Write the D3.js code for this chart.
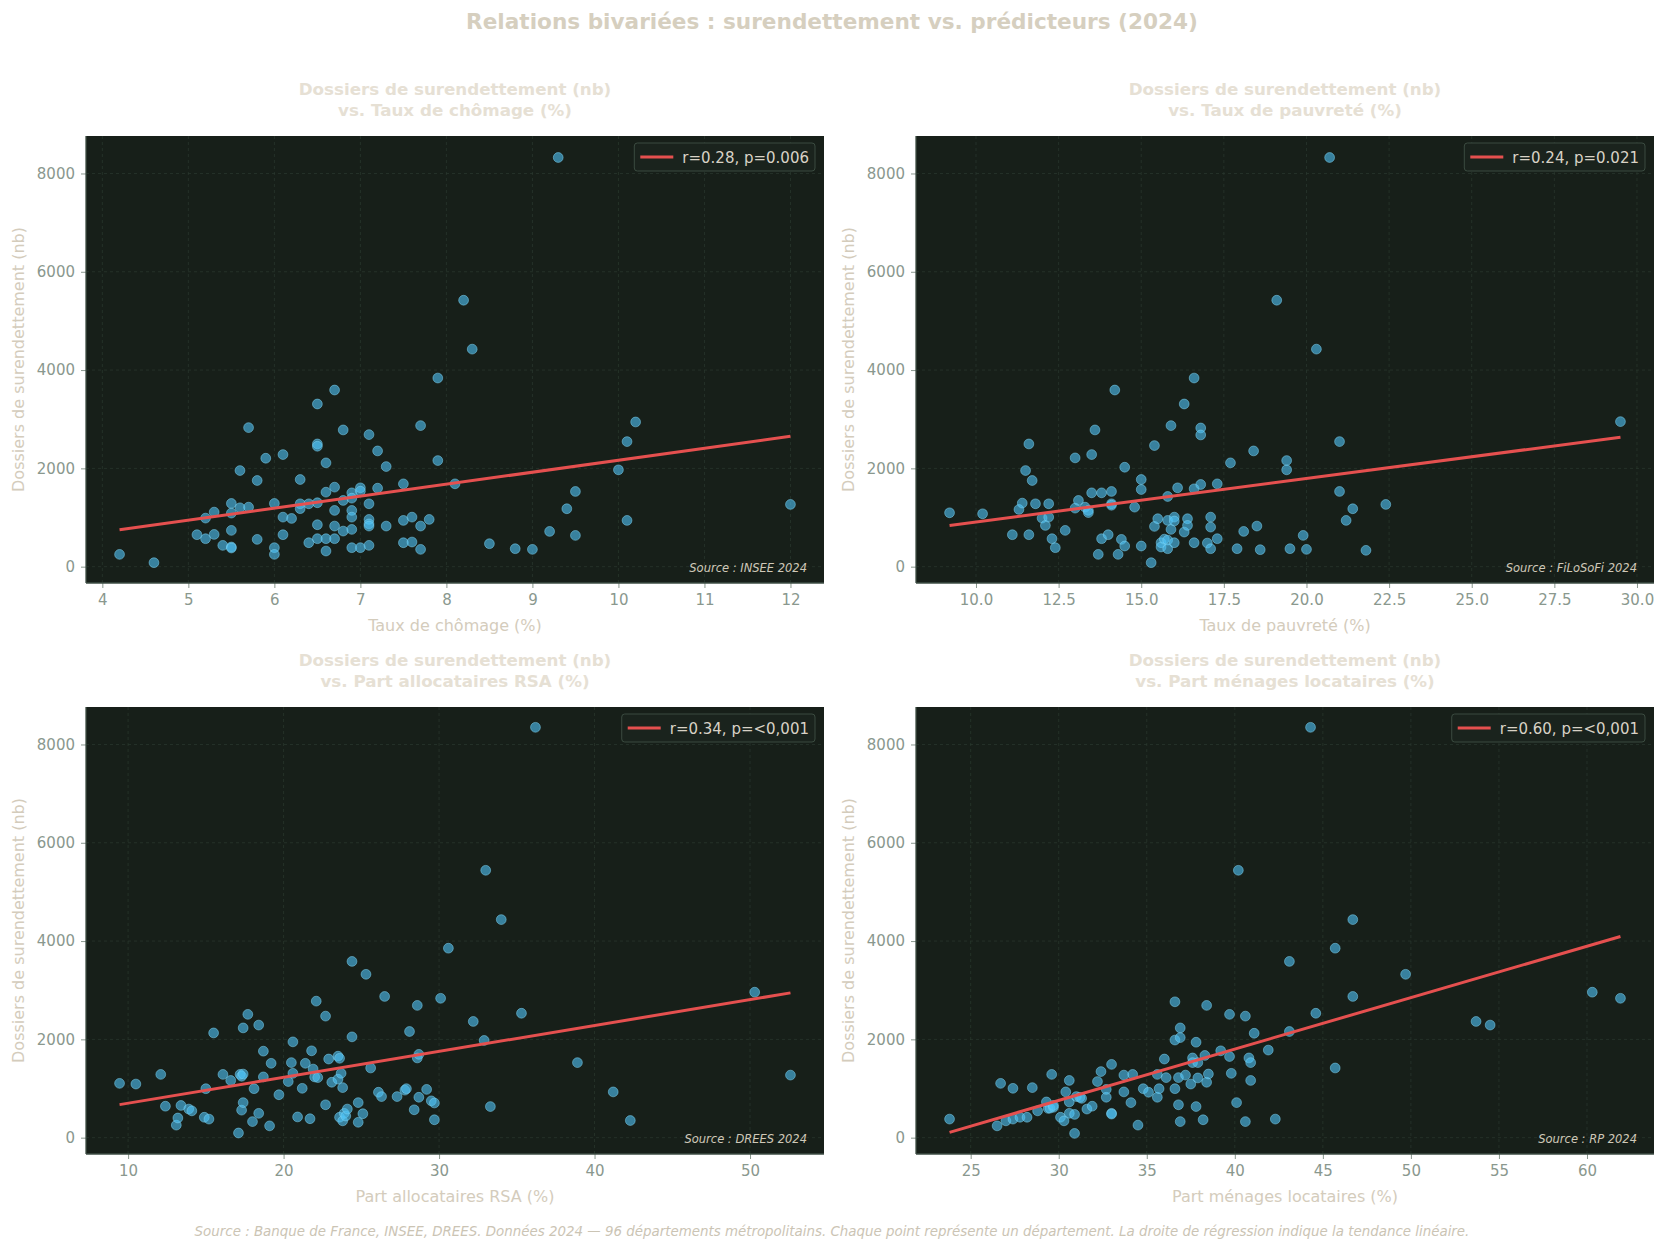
<!DOCTYPE html>
<html lang="fr">
<head>
<meta charset="utf-8">
<title>Relations bivariées : surendettement vs. prédicteurs (2024)</title>
<script src="https://d3js.org/d3.v7.min.js"></script>
<style>
  body { margin: 0; background: #ffffff; font-family: "DejaVu Sans", sans-serif; }
  .tick text { fill: #8a988e; font-size: 15px; font-family: "DejaVu Sans", sans-serif; }
  .tick line { stroke: #8a988e; }
</style>
</head>
<body>
<script>
// Data (one point = one département, [x, dossiers])
const ptsChomage = [
  [4.2,250],[4.6,81],[5.1,650],[5.2,988],[5.2,569],[5.3,1110],[5.3,656],[5.4,433],[5.5,1286],[5.5,1090],
  [5.5,738],[5.5,400],[5.5,380],[5.6,1198],[5.6,1956],[5.7,1211],[5.7,2829],[5.8,1753],[5.8,555],[5.9,2206],
  [6.0,1286],[6.0,386],[6.0,250],[6.1,2281],[6.1,1008],[6.1,650],[6.2,981],[6.3,1773],[6.3,1279],[6.3,1180],
  [6.4,487],[6.4,1279],[6.5,3310],[6.5,2497],[6.5,2450],[6.5,1300],[6.5,853],[6.5,569],[6.6,2112],[6.6,1516],
  [6.6,569],[6.6,318],[6.7,3594],[6.7,1618],[6.7,1144],[6.7,826],[6.7,569],[6.8,2782],[6.8,1347],[6.8,724],
  [6.9,1502],[6.9,1394],[6.9,1144],[6.9,1008],[6.9,758],[6.9,386],[7.0,1604],[7.0,1536],[7.0,386],[7.1,2687],
  [7.1,1279],[7.1,961],[7.1,870],[7.1,826],[7.1,433],[7.2,2355],[7.2,1597],[7.3,2037],[7.3,826],[7.5,1685],
  [7.5,941],[7.5,487],[7.6,1008],[7.6,501],[7.7,2870],[7.7,826],[7.7,352],[7.8,961],[7.9,3838],[7.9,2159],
  [8.1,1685],[8.2,5421],[8.3,4426],[8.5,467],[8.8,365],[9.0,352],[9.2,717],[9.3,8325],[9.4,1178],[9.5,1530],
  [9.5,636],[10.0,1970],[10.1,2545],[10.1,941],[10.2,2944],[12.0,1266]
];
const ptsPauvrete = [
  [9.2,1096],[10.2,1076],[11.1,650],[11.3,1164],[11.4,1293],[11.5,1956],[11.6,2497],[11.6,650],[11.7,1753],[11.8,1279],
  [12.0,988],[12.1,839],[12.2,1279],[12.2,1008],[12.3,569],[12.4,386],[12.7,738],[13.0,2213],[13.0,1191],[13.1,1347],
  [13.3,1211],[13.4,1144],[13.4,1100],[13.5,2281],[13.5,1502],[13.6,2782],[13.7,250],[13.8,1502],[13.8,569],[14.0,650],
  [14.1,1530],[14.1,1279],[14.1,1250],[14.2,3594],[14.3,250],[14.4,555],[14.5,2023],[14.5,420],[14.8,1211],[15.0,1773],
  [15.0,1570],[15.0,420],[15.3,81],[15.4,2464],[15.4,819],[15.5,975],[15.6,487],[15.6,400],[15.7,560],[15.8,1428],
  [15.8,941],[15.8,540],[15.8,365],[15.9,2870],[15.9,758],[16.0,1008],[16.0,930],[16.0,487],[16.1,1604],[16.3,3310],
  [16.3,704],[16.4,975],[16.4,839],[16.6,3838],[16.6,1584],[16.6,487],[16.8,2822],[16.8,2680],[16.8,1672],[17.0,480],
  [17.1,1008],[17.1,805],[17.1,365],[17.3,1685],[17.3,569],[17.7,2112],[17.9,365],[18.1,717],[18.4,2355],[18.5,826],
  [18.6,345],[19.1,5421],[19.4,2159],[19.4,1970],[19.5,365],[19.9,636],[20.0,352],[20.3,4426],[20.7,8325],[21.0,2545],
  [21.0,1530],[21.2,941],[21.4,1178],[21.8,332],[22.4,1266],[29.5,2951]
];
const ptsRsa = [
  [9.45,1105],[10.5,1091],[12.1,1287],[12.4,640],[13.1,255],[13.2,400],[13.4,655],[13.9,582],[14.1,545],[14.9,415],
  [15.0,996],[15.2,378],[15.5,2131],[16.1,1287],[16.6,1164],[17.2,1287],[17.1,95],[17.3,560],[17.3,1250],[17.4,713],
  [17.4,2233],[17.4,1294],[17.7,2509],[18.0,327],[18.1,996],[18.4,495],[18.4,2291],[18.7,1236],[18.7,1760],[19.1,240],
  [19.2,1513],[19.7,873],[20.3,1142],[20.5,1527],[20.6,1949],[20.6,1309],[20.9,422],[21.2,1004],[21.4,1513],[21.7,385],
  [21.8,1767],[21.9,1396],[22.0,1236],[22.1,2778],[22.2,1222],[22.7,2473],[22.7,669],[22.9,1600],[23.1,1127],[23.5,1658],
  [23.5,1190],[23.6,415],[23.6,1615],[23.7,1309],[23.8,1018],[23.8,342],[23.9,495],[24.0,440],[24.1,582],[24.4,2051],
  [24.4,3586],[24.8,713],[24.8,313],[25.1,487],[25.3,3324],[25.6,1418],[26.1,924],[26.3,836],[26.5,2873],[27.3,836],
  [27.8,967],[27.9,996],[28.1,2160],[28.4,567],[28.6,2691],[28.6,1622],[28.7,1695],[28.7,822],[29.2,982],[29.5,749],
  [29.7,706],[29.7,364],[30.1,2836],[30.6,3855],[32.2,2364],[32.9,1978],[33.0,5440],[33.3,633],[34.0,4437],[35.3,2531],
  [36.2,8349],[38.9,1527],[41.2,931],[42.3,349],[50.3,2960],[52.6,1273]
];
const ptsLocataires = [
  [23.8,378],[26.5,240],[26.7,1105],[27.0,342],[27.4,1004],[27.4,378],[27.8,415],[28.2,415],[28.5,1018],[28.8,545],
  [29.3,727],[29.4,596],[29.5,600],[29.6,1287],[29.7,618],[29.7,655],[30.1,415],[30.3,342],[30.4,931],[30.6,727],
  [30.6,1164],[30.6,495],[30.9,87],[30.9,473],[31.0,836],[31.2,820],[31.3,800],[31.6,582],[31.9,640],[32.2,1142],
  [32.4,1345],[32.7,822],[32.7,982],[33.0,1491],[33.0,495],[33.0,480],[33.7,1273],[33.7,931],[34.1,713],[34.2,1287],
  [34.5,255],[34.8,996],[35.1,924],[35.6,822],[35.6,1287],[35.7,996],[36.0,1600],[36.1,1222],[36.6,1986],[36.6,2764],
  [36.6,996],[36.8,1222],[36.8,669],[36.9,2233],[36.9,2036],[36.9,327],[37.2,1273],[37.5,1091],[37.6,1622],[37.6,1527],
  [37.8,1942],[37.8,633],[37.9,1527],[37.9,1215],[38.2,364],[38.3,1673],[38.4,2691],[38.4,1127],[38.5,1295],[39.2,1767],
  [39.7,2509],[39.7,1651],[39.8,1309],[40.1,713],[40.2,5440],[40.6,2473],[40.6,327],[40.8,1622],[40.9,1527],[40.9,1164],
  [41.1,2124],[41.9,1782],[42.3,378],[43.1,3586],[43.1,2160],[44.3,8349],[44.6,2531],[45.7,3855],[45.7,1418],[46.7,2873],
  [46.7,4437],[49.7,3324],[53.7,2364],[54.5,2291],[60.3,2960],[61.9,2836]
];

// regression lines as read on the picture: [slope, intercept]
const fitChomage = [243.8, -273];
const fitPauvrete = [88.4, 26];
const fitRsa = [52.7, 174];
const fitLocataires = [104.6, -2381];

const legendLabels = ["r=0.28, p=0.006", "r=0.24, p=0.021", "r=0.34, p=<0,001", "r=0.60, p=<0,001"];
const predictorNames = ["Taux de chômage (%)", "Taux de pauvreté (%)", "Part allocataires RSA (%)", "Part ménages locataires (%)"];
const sourceLabels = ["Source : INSEE 2024", "Source : FiLoSoFi 2024", "Source : DREES 2024", "Source : RP 2024"];
const xTickValues = [
  [4, 5, 6, 7, 8, 9, 10, 11, 12],
  [10, 12.5, 15, 17.5, 20, 22.5, 25, 27.5, 30],
  [10, 20, 30, 40, 50],
  [25, 30, 35, 40, 45, 50, 55, 60]
];
const xTickFormats = ["d", ".1f", "d", "d"];
const yTickValues = [0, 2000, 4000, 6000, 8000];
const yLabel = "Dossiers de surendettement (nb)";

const W = 1665, H = 1250;
const panels = [
  {pts: ptsChomage, fit: fitChomage, x0: 86, y0: 136},
  {pts: ptsPauvrete, fit: fitPauvrete, x0: 916, y0: 136},
  {pts: ptsRsa, fit: fitRsa, x0: 86, y0: 707},
  {pts: ptsLocataires, fit: fitLocataires, x0: 916, y0: 707}
];
const pw = 738, ph = 447;

const svg = d3.select("body").append("svg")
  .attr("width", W).attr("height", H)
  .style("font-family", "'DejaVu Sans', sans-serif");

svg.append("rect").attr("width", W).attr("height", H).attr("fill", "#ffffff");

// main title
svg.append("text")
  .attr("x", 832).attr("y", 29)
  .attr("text-anchor", "middle")
  .attr("font-size", 21.6).attr("font-weight", "bold")
  .attr("fill", "#d6cfbf")
  .text("Relations bivariées : surendettement vs. prédicteurs (2024)");

// matplotlib-like 5% margins
function pad(ext) {
  const m = (ext[1] - ext[0]) * 0.05;
  return [ext[0] - m, ext[1] + m];
}
const allY = panels.flatMap(p => p.pts.map(d => d[1]));
const yDom = pad(d3.extent(allY));

panels.forEach((p, i) => {
  const g = svg.append("g").attr("transform", "translate(" + p.x0 + "," + p.y0 + ")");
  const x = d3.scaleLinear().domain(pad(d3.extent(p.pts, d => d[0]))).range([0, pw]);
  const y = d3.scaleLinear().domain(yDom).range([ph, 0]);

  g.append("rect").attr("width", pw).attr("height", ph).attr("fill", "#171f19");

  // grid
  g.append("g").selectAll("line").data(xTickValues[i]).join("line")
    .attr("x1", d => x(d)).attr("x2", d => x(d)).attr("y1", 0).attr("y2", ph)
    .attr("stroke", "#2b3a2f").attr("stroke-width", 0.7).attr("stroke-dasharray", "3,3");
  g.append("g").selectAll("line").data(yTickValues).join("line")
    .attr("x1", 0).attr("x2", pw).attr("y1", d => y(d)).attr("y2", d => y(d))
    .attr("stroke", "#2b3a2f").attr("stroke-width", 0.7).attr("stroke-dasharray", "3,3");

  // axes (domain drawn as spines below)
  const xa = g.append("g").attr("transform", "translate(0," + ph + ")")
    .call(d3.axisBottom(x).tickValues(xTickValues[i]).tickFormat(d3.format(xTickFormats[i])).tickSizeOuter(0).tickSize(5).tickPadding(6));
  const ya = g.append("g")
    .call(d3.axisLeft(y).tickValues(yTickValues).tickFormat(d3.format("d")).tickSizeOuter(0).tickSize(5).tickPadding(6));
  xa.select(".domain").remove();
  ya.select(".domain").remove();
  g.append("line").attr("x1", 0).attr("x2", 0).attr("y1", 0).attr("y2", ph)
    .attr("stroke", "#3e4e44").attr("stroke-width", 1.3);
  g.append("line").attr("x1", 0).attr("x2", pw).attr("y1", ph).attr("y2", ph)
    .attr("stroke", "#3e4e44").attr("stroke-width", 1.3);

  // points
  g.append("g").selectAll("circle").data(p.pts).join("circle")
    .attr("cx", d => x(d[0])).attr("cy", d => y(d[1])).attr("r", 4.9)
    .attr("fill", "#4fc3f7").attr("fill-opacity", 0.6)
    .attr("stroke", "#7fd3f2").attr("stroke-opacity", 0.5).attr("stroke-width", 1);

  // regression line
  const xe = d3.extent(p.pts, d => d[0]);
  g.append("line")
    .attr("x1", x(xe[0])).attr("y1", y(p.fit[0] * xe[0] + p.fit[1]))
    .attr("x2", x(xe[1])).attr("y2", y(p.fit[0] * xe[1] + p.fit[1]))
    .attr("stroke", "#e5504f").attr("stroke-width", 3);

  // legend
  const lg = g.append("g");
  const lt = lg.append("text").attr("font-size", 15).attr("fill", "#d8d2c6").text(legendLabels[i]);
  const tw = lt.node().getComputedTextLength();
  const bw = tw + 54, bx = pw - 9 - bw;
  lg.insert("rect", "text").attr("x", bx).attr("y", 7).attr("width", bw).attr("height", 28).attr("rx", 3)
    .attr("fill", "#1a231d").attr("stroke", "#3b4b40").attr("stroke-width", 1);
  lg.append("line").attr("x1", bx + 6).attr("x2", bx + 39).attr("y1", 21).attr("y2", 21)
    .attr("stroke", "#e5504f").attr("stroke-width", 3);
  lt.attr("x", bx + 48).attr("y", 26.5);

  // source note
  g.append("text")
    .attr("x", pw - 17).attr("y", ph - 11)
    .attr("text-anchor", "end").attr("font-size", 11.5).attr("font-style", "italic")
    .attr("fill", "#cfc8b8").text(sourceLabels[i]);

  // panel title
  const tt = g.append("text").attr("text-anchor", "middle").attr("font-size", 16.7).attr("font-weight", "bold")
    .attr("fill", "#e6e0d4");
  tt.append("tspan").attr("x", pw / 2).attr("y", -41).text("Dossiers de surendettement (nb)");
  tt.append("tspan").attr("x", pw / 2).attr("y", -20).text("vs. " + predictorNames[i]);

  // axis labels
  g.append("text").attr("x", pw / 2).attr("y", ph + 48)
    .attr("text-anchor", "middle").attr("font-size", 16).attr("fill", "#d4ccbc")
    .text(predictorNames[i]);
  g.append("text")
    .attr("transform", "translate(" + (-62) + "," + (ph / 2) + ") rotate(-90)")
    .attr("text-anchor", "middle").attr("font-size", 16).attr("fill", "#d4ccbc")
    .text(yLabel);
});

// footer
svg.append("text")
  .attr("x", 832).attr("y", 1236)
  .attr("text-anchor", "middle").attr("font-size", 13.4).attr("font-style", "italic")
  .attr("fill", "#cbc4b4")
  .text("Source : Banque de France, INSEE, DREES. Données 2024 — 96 départements métropolitains. Chaque point représente un département. La droite de régression indique la tendance linéaire.");
</script>
</body>
</html>
